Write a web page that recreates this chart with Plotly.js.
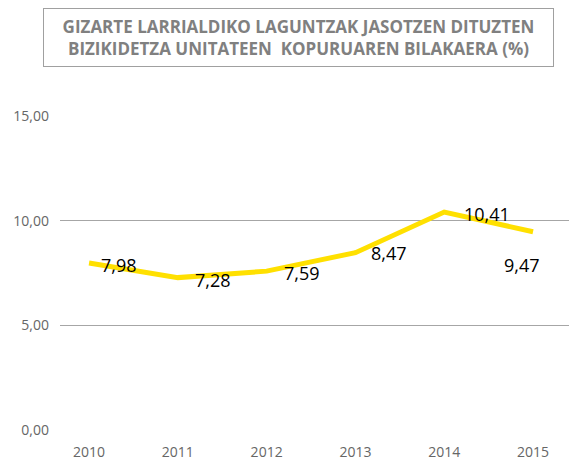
<!DOCTYPE html>
<html><head><meta charset="utf-8">
<script src="https://cdn.plot.ly/plotly-3.0.1.min.js"></script>
<style>html,body{margin:0;padding:0;background:#fff}#c{width:569px;height:462px}</style>
</head><body><div id="c"></div>
<script>
const years = [2010, 2011, 2012, 2013, 2014, 2015];
const values = [7.98, 7.28, 7.59, 8.47, 10.41, 9.47];
const yTicks = [0, 5, 10, 15];
const titleText = 'GIZARTE LARRIALDIKO LAGUNTZAK JASOTZEN DITUZTEN<br>BIZIKIDETZA UNITATEEN  KOPURUAREN BILAKAERA (%)';

const labelShift = [[30,-2],[35,-2],[35,-2],[34,0],[43,-2],[-11,-33]];
const fmt = v => v.toFixed(2).replace('.', ',');

const annotations = years.map((y, i) => ({
  x: y, y: values[i], xref: 'x', yref: 'y', text: fmt(values[i]), showarrow: false,
  xshift: labelShift[i][0], yshift: labelShift[i][1],
  font: {family: 'Open Sans, sans-serif', size: 18, color: '#000'}
}));
annotations.push({
  xref: 'paper', yref: 'paper', x: (298.5-60)/509, y: 1, yanchor: 'bottom', yshift: 49,
  text: titleText, showarrow: false, align: 'center',
  width: 509, height: 57, borderpad: 0, bordercolor: '#a0a0a0', borderwidth: 1,
  font: {family: 'Open Sans, sans-serif', size: 17, color: '#808080', weight: 'bold'}
});

const trace = {
  x: years, y: values, type: 'scatter', mode: 'lines',
  line: {color: '#FFE000', width: 5}, hoverinfo: 'skip'
};

const layout = {
  width: 569, height: 462,
  margin: {l: 60, r: 0, t: 116, b: 32},
  paper_bgcolor: '#fff', plot_bgcolor: '#fff',
  separators: ',.',
  showlegend: false,
  xaxis: {
    range: [2009.673, 2015.405], tickvals: years, ticktext: years.map(String),
    showgrid: false, zeroline: false, showline: false, ticks: '', ticklabelstandoff: 12,
    tickfont: {family: 'Open Sans, sans-serif', size: 14, color: '#666'}
  },
  yaxis: {
    range: [0, 15], tickvals: yTicks, tickformat: '.2f',
    showgrid: true, gridcolor: '#a6a6a6', gridwidth: 1, zeroline: false, showline: false,
    ticks: '', ticklabelstandoff: 10,
    tickfont: {family: 'Open Sans, sans-serif', size: 14, color: '#666'}
  },
  annotations: annotations
};
Plotly.newPlot('c', [trace], layout, {displayModeBar: false, staticPlot: true});
</script></body></html>
